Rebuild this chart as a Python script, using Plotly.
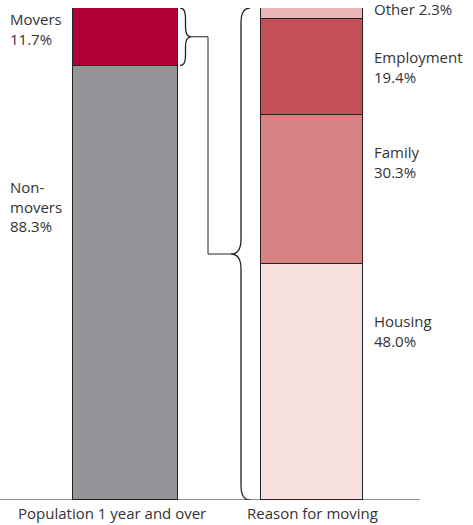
import plotly.graph_objects as go

# === Data ===
left_labels = ["Non-<br>movers<br>88.3%", "Movers<br>11.7%"]
left_values = [88.3, 11.7]
left_colors = ["#939598", "#B00035"]

right_names = ["Housing", "Family", "Employment", "Other"]
right_values = [48.0, 30.3, 19.4, 2.3]
right_colors = ["#F6E1DF", "#D88383", "#C4505A", "#E8B5B8"]

categories = ["Population 1 year and over", "Reason for moving"]

LX, RX = 125.5, 312   # bar centres (x axis runs in pixel-like units)
LW, RW = 105, 102
text_col = "#333333"
font = "Open Sans"

fig = go.Figure()

for v, c in zip(left_values, left_colors):
    fig.add_trace(go.Bar(x=[LX], y=[v], width=LW, marker=dict(color=c, line=dict(color="#222", width=1)),
                         showlegend=False, hoverinfo="skip"))
for v, c in zip(right_values, right_colors):
    fig.add_trace(go.Bar(x=[RX], y=[v], width=RW, marker=dict(color=c, line=dict(color="#222", width=1)),
                         showlegend=False, hoverinfo="skip"))

# Left labels
fig.add_annotation(x=8, y=100, text=left_labels[1], xanchor="left", yanchor="top", yshift=1, align="left",
                   showarrow=False)
fig.add_annotation(x=8, y=66, text=left_labels[0], xanchor="left", yanchor="top", align="left", showarrow=False)

# Right labels, placed below the top of each segment
label_drop = {"Housing": 9.2, "Family": 5.2, "Employment": 5.2}
cum = 0
tops = []
for v in right_values:
    cum += v
    tops.append(cum)
for name, v, top in zip(right_names, right_values, tops):
    if name == "Other":
        fig.add_annotation(x=372, y=100, text=f"{name} {v}%", xanchor="left", yanchor="middle", yshift=-1,
                           showarrow=False)
    else:
        fig.add_annotation(x=372, y=top - label_drop[name], text=f"{name}<br>{v}%", xanchor="left",
                           yanchor="top", align="left", showarrow=False)

# Category labels under the axis
fig.add_annotation(x=112, y=0, text=categories[0], yanchor="top", yshift=-1, showarrow=False)
fig.add_annotation(x=RX, y=0, text=categories[1], yanchor="top", yshift=-1, showarrow=False)


def brace(x0, x1, x2, top, bot, d):
    mid = (top + bot) / 2
    return (f"M {x0},{top} Q {x1},{top} {x1},{top - d} L {x1},{mid + d} Q {x1},{mid} {x2},{mid} "
            f"Q {x1},{mid} {x1},{mid - d} L {x1},{bot + d} Q {x1},{bot} {x0},{bot}")


line = dict(color="#222", width=1.3)
small_top, small_bot = 100, 100 - left_values[1]
fig.add_shape(type="path", path=brace(180, 185.5, 191, small_top, small_bot, 2), line=line)
fig.add_shape(type="path", path=brace(250, 241, 231, 100, 0, 3), line=line)
small_mid = (small_top + small_bot) / 2
fig.add_shape(type="path", path=f"M 191,{small_mid} L 208,{small_mid} L 208,50 L 231,50",
              line=dict(color="#222", width=1))
# baseline
fig.add_shape(type="line", x0=0, x1=420, y0=0, y1=0, line=dict(color="#222", width=1))

fig.update_layout(
    barmode="stack",
    width=473, height=525,
    margin=dict(l=0, r=0, t=8, b=25, autoexpand=False),
    plot_bgcolor="white", paper_bgcolor="white",
    font=dict(family=font, size=15, color=text_col),
    xaxis=dict(range=[0, 473], visible=False),
    yaxis=dict(range=[0, 100], visible=False),
    bargap=0,
)

fig.write_html("out.html", config={"displayModeBar": False},
               post_script="document.body.style.margin='0';")
